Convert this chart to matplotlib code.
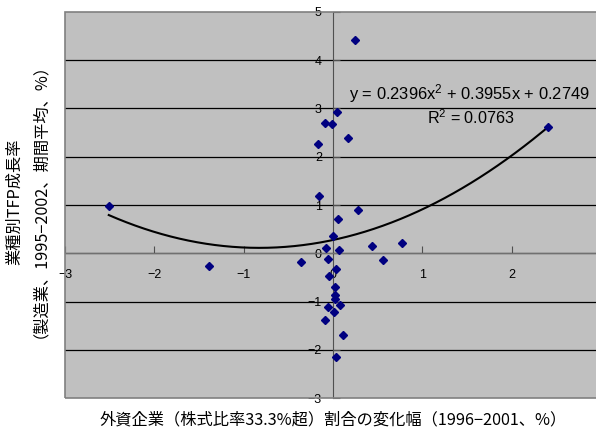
import matplotlib
matplotlib.use('Agg')
import matplotlib.pyplot as plt
import numpy as np
from matplotlib.patches import Rectangle

# 外資企業割合の変化幅 (x) と 業種別TFP成長率 (y)
fdi_change = [-2.51, -1.385, -0.356, -0.167, -0.086, -0.01, 0.04, 0.245, 0.17, 2.41,
              -0.157, 0.277, 0.053, -0.003, -0.079, 0.071, 0.438, 0.772, 0.562, -0.056,
              0.034, -0.045, 0.026, 0.026, 0.019, 0.082, -0.053, 0.008, -0.087, 0.112,
              0.03]
tfp_growth = [0.975, -0.26, -0.18, 2.26, 2.69, 2.67, 2.93, 4.42, 2.38, 2.61,
              1.19, 0.90, 0.705, 0.36, 0.10, 0.07, 0.145, 0.22, -0.145, -0.116,
              -0.33, -0.47, -0.70, -0.86, -0.95, -1.07, -1.12, -1.22, -1.39, -1.69,
              -2.16]
# 近似曲線 (2次)
coef = [0.2396, 0.3955, 0.2749]
r2 = 0.0763
xticks = [-3, -2, -1, 0, 1, 2]
yticks = [-3, -2, -1, 0, 1, 2, 3, 4, 5]

jp = ['Noto Sans CJK JP', 'DejaVu Sans']
num = 'Liberation Sans'
plt.rcParams['mathtext.fontset'] = 'custom'
plt.rcParams['mathtext.rm'] = num
plt.rcParams['mathtext.it'] = num

fig = plt.figure(figsize=(5.96, 4.36), dpi=100)
ax = fig.add_axes([65 / 596, 38 / 436, 536 / 596, 386 / 436])
ax.set_facecolor('#C0C0C0')
ax.set_xlim(-3, 3)
ax.set_ylim(-3, 5)

for yv in yticks[1:-1]:
    ax.axhline(yv, color='black', lw=0.9, zorder=1)

# 外枠
ax.add_patch(Rectangle((0, 0), 1, 1, transform=ax.transAxes, fill=False,
                       edgecolor='#808080', lw=1.2, zorder=5, clip_on=False))

for s in ['top', 'right']:
    ax.spines[s].set_visible(False)
ax.spines['left'].set_position(('data', 0))
ax.spines['bottom'].set_position(('data', 0))
ax.spines['left'].set_color('#505050')
ax.spines['bottom'].set_color('#707070')
ax.spines['left'].set_zorder(2)
ax.spines['bottom'].set_zorder(2)

ax.set_xticks(xticks)
ax.set_yticks(yticks)
ax.set_xticklabels([str(v).replace('-', '\u2212') for v in xticks], fontfamily=num, fontsize=9)
ax.set_yticklabels([str(v).replace('-', '\u2212') for v in yticks], fontfamily=num, fontsize=9)
ax.tick_params(axis='x', direction='in', length=5, pad=11, color='#505050')
ax.tick_params(axis='y', direction='in', length=5, pad=8, color='#505050')

xs = np.linspace(min(fdi_change), max(fdi_change), 200)
ax.plot(xs, np.polyval(coef, xs), color='black', lw=1.5, zorder=3)
ax.plot(fdi_change, tfp_growth, 'D', color='#000080', ms=4.3, zorder=4)

ax.text(0.18, 3.31, 'y = %.4fx$^2$ + %.4fx + %.4f' % tuple(coef),
        fontfamily=num, fontsize=11.9, ha='left', va='center', zorder=6)
ax.text(1.05, 2.81, 'R$^2$ = %.4f' % r2,
        fontfamily=num, fontsize=11.6, ha='left', va='center', zorder=6)

fig.text(333 / 596, 1 - 420 / 436,
         '外資企業（株式比率33.3%超）割合の変化幅（1996\u22122001、%）',
         family=jp, fontsize=11.7, ha='center', va='center')
fig.text(15 / 596, 1 - 202 / 436, '業種別TFP成長率',
         family=jp, fontsize=11.7, ha='center', va='center', rotation=90)
fig.text(32 / 596, 1 - 192 / 436, '（製造業、1995\u22122002、期間平均、%）',
         family=jp, fontsize=11.7, ha='center', va='center', rotation=90)

fig.savefig('out.png', dpi=100)
